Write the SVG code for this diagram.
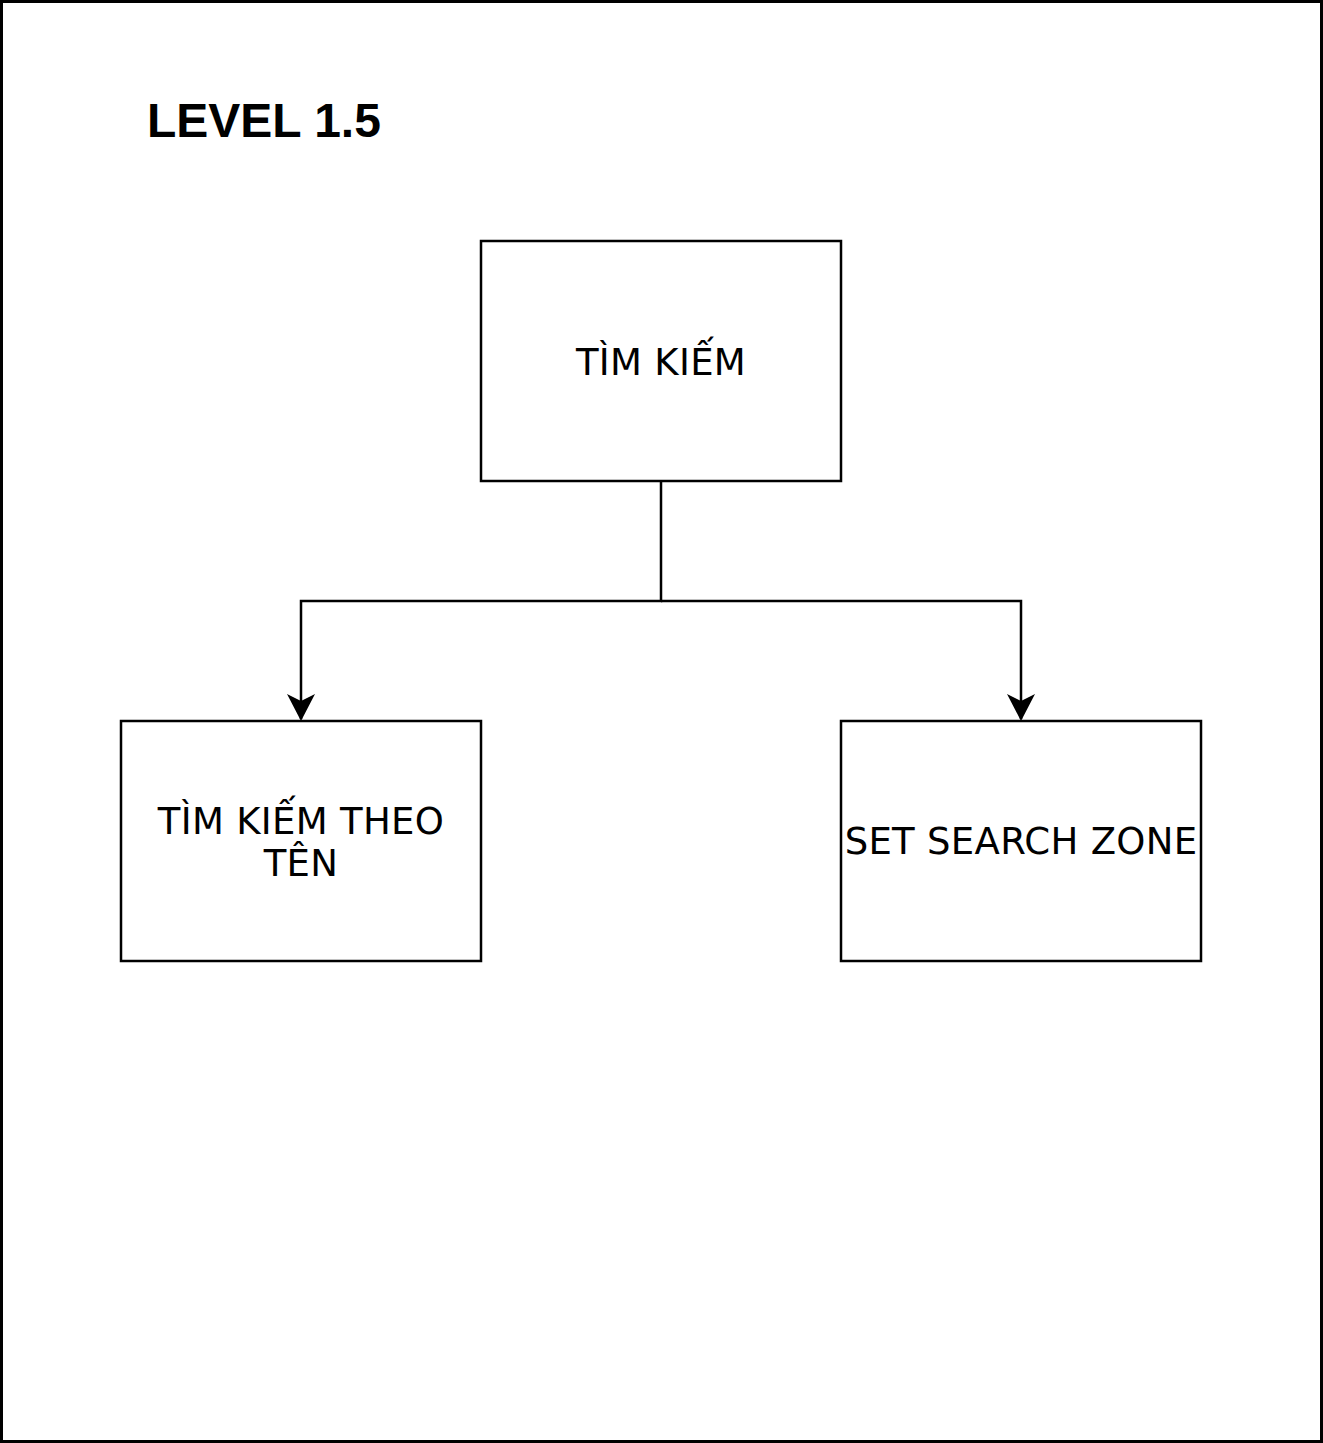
<svg xmlns="http://www.w3.org/2000/svg" width="1323" height="1443" viewBox="0 0 1323 1443">
<style>
.box{fill:#fff;stroke:#000;stroke-width:2.5}
.lbl{font-family:"DejaVu Sans",Verdana,sans-serif;font-size:37px;fill:#000;text-anchor:middle;letter-spacing:0.3px}
.edge{fill:none;stroke:#000;stroke-width:2.5}
</style>
<rect x="0" y="0" width="1323" height="1443" fill="#fff"/>
<rect id="frame" x="1.5" y="1.5" width="1320" height="1440" fill="none" stroke="#000" stroke-width="3"/>
<text id="title" x="147" y="137" font-family="Liberation Sans,Arial,sans-serif" font-weight="bold" font-size="48" fill="#000">LEVEL 1.5</text>
<g id="connectors">
<path class="edge" d="M661,481 V601 H301 V719"/>
<path class="edge" d="M661,601 H1021 V719"/>
<path d="M287,694 L301,721 L315,694 L301,701 Z" fill="#000"/>
<path d="M1007,694 L1021,721 L1035,694 L1021,701 Z" fill="#000"/>
</g>
<g id="node-tim-kiem">
<rect class="box" x="481" y="241" width="360" height="240"/>
<text class="lbl" x="661" y="375">TÌM KIẾM</text>
</g>
<g id="node-tim-kiem-theo-ten">
<rect class="box" x="121" y="721" width="360" height="240"/>
<text class="lbl" x="301" y="834">TÌM KIẾM THEO</text>
<text class="lbl" x="301" y="876">TÊN</text>
</g>
<g id="node-set-search-zone">
<rect class="box" x="841" y="721" width="360" height="240"/>
<text class="lbl" x="1021" y="854">SET SEARCH ZONE</text>
</g>
</svg>
